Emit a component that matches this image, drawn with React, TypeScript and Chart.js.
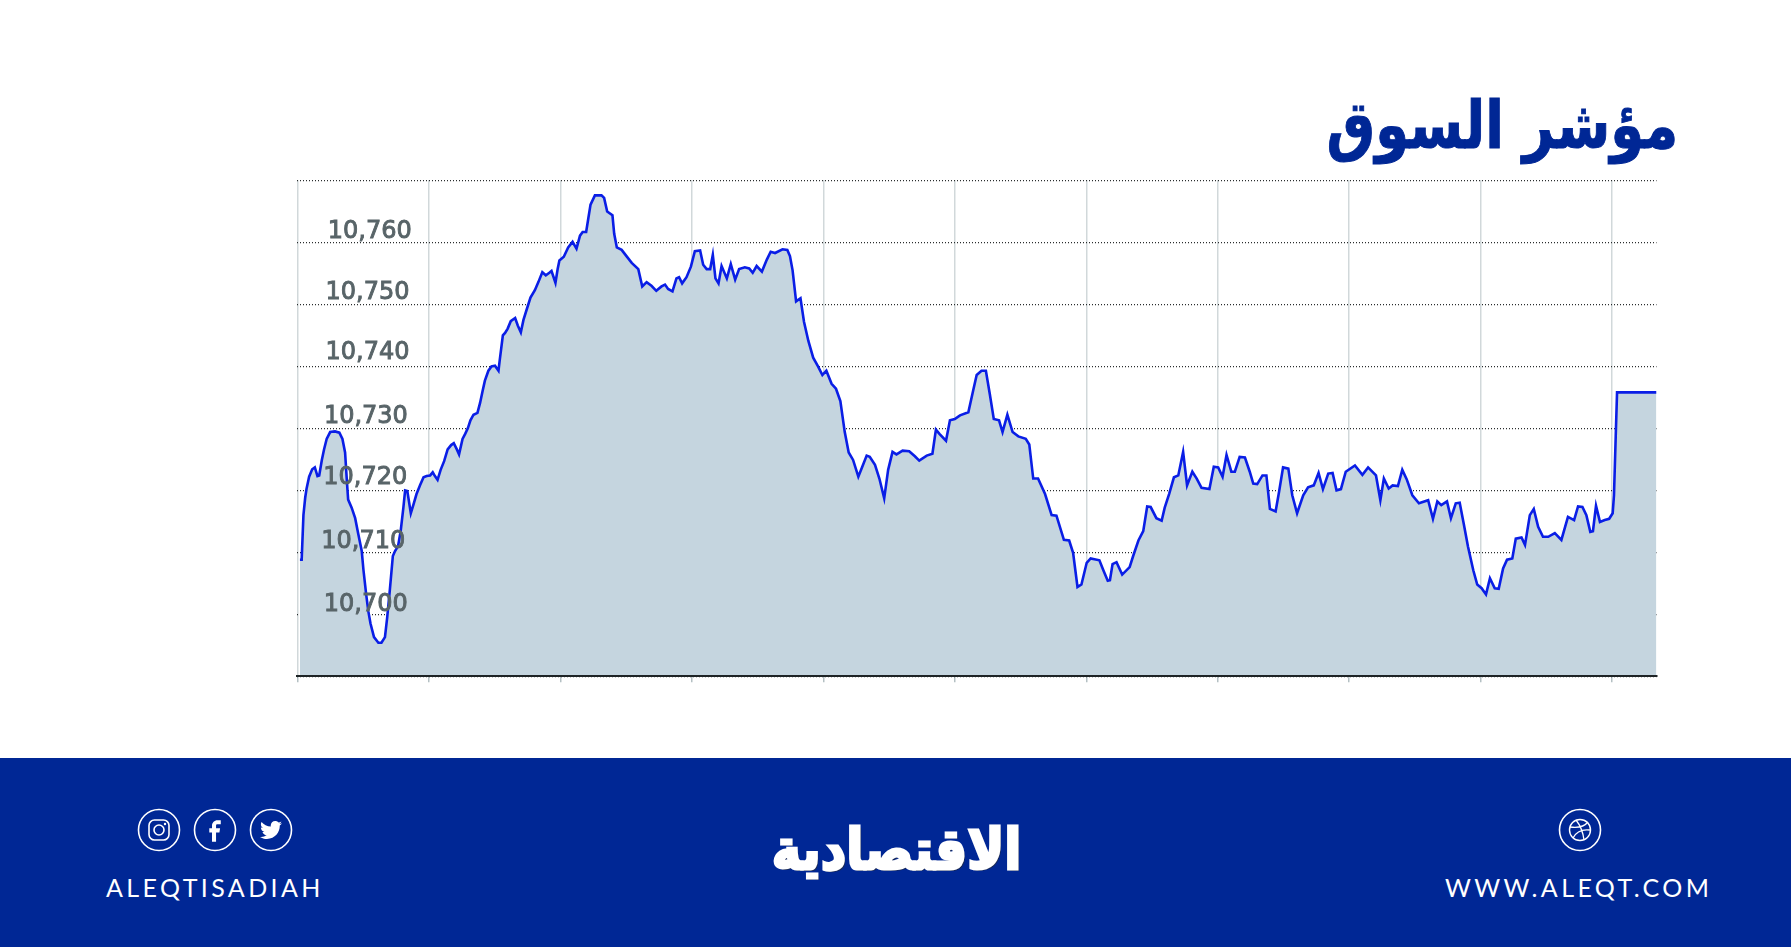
import React, { useEffect, useRef } from "react";
import { Chart, registerables } from "chart.js";

Chart.register(...registerables);

// Minutes after the 10:00 open
const minutes = [
  0.6,1.0,1.4,1.8,2.1,2.7,3.4,4.0,4.6,5.0,5.6,6.1,6.7,7.5,8.6,9.6,10.3,10.9,11.3,11.6,12.4,13.2,13.9,14.7,15.1,15.7,16.2,16.7,17.5,18.5,
  19.2,20.0,20.5,21.1,21.8,22.3,23.0,23.6,24.2,24.6,25.1,25.9,26.5,27.2,28.0,28.8,29.5,30.3,30.9,31.4,32.0,32.7,33.5,34.3,35.1,35.7,36.4,36.9,37.7,38.3,
  38.9,39.5,40.2,41.1,41.7,42.3,42.8,43.6,44.3,45.1,45.9,46.2,46.9,47.4,48.0,48.7,49.7,50.3,51.0,51.6,52.3,53.2,54.2,55.0,55.9,56.7,57.5,58.0,58.9,59.4,
  59.8,60.8,61.8,62.8,63.7,64.5,65.1,65.9,66.4,66.9,67.9,69.4,70.0,70.7,71.9,72.3,72.9,74.0,75.1,76.3,77.8,78.7,79.7,80.8,81.9,83.1,83.9,84.6,85.6,86.5,
  87.1,87.8,88.8,89.8,90.7,91.9,92.6,93.4,94.2,94.8,95.4,96.1,96.8,98.0,98.9,99.9,100.8,102.1,103.1,103.9,104.8,106.0,107.1,108.0,109.0,110.7,111.8,112.4,113.0,113.8,
  114.8,115.6,116.6,117.7,118.8,119.8,120.7,121.9,122.9,123.9,124.9,125.8,126.8,128.0,128.9,129.9,130.6,131.8,132.8,133.9,134.8,135.8,136.7,138.1,139.6,140.9,141.9,143.6,144.9,145.7,
  146.5,148.0,148.9,150.0,151.2,153.1,154.2,155.0,156.1,157.1,158.0,158.9,160.1,160.9,162.0,163.2,164.5,166.2,167.0,167.9,169.0,170.6,172.1,173.2,174.9,176.1,177.0,178.0,178.9,180.1,
  181.0,183.0,183.9,184.9,185.4,186.0,186.9,188.2,189.9,190.7,191.9,193.0,193.9,194.7,196.0,197.2,197.9,198.9,200.0,201.0,202.1,203.0,204.2,205.2,206.3,208.1,209.1,210.1,211.1,212.0,
  213.1,213.9,215.0,216.2,217.3,218.1,219.0,220.2,221.1,221.9,223.2,224.0,224.9,226.1,227.0,228.1,229.5,230.6,231.9,233.0,234.0,235.2,236.2,237.1,238.1,239.2,241.3,243.0,244.3,246.1,
  247.1,247.9,249.0,249.9,251.1,252.1,253.1,254.4,255.9,258.0,259.1,260.1,261.0,262.3,263.2,264.3,265.2,266.1,267.1,268.3,269.2,270.2,271.2,272.1,273.2,274.1,275.1,276.0,277.2,278.0,
  279.3,280.1,281.2,282.1,283.1,284.2,285.4,286.9,288.4,289.9,291.3,292.2,293.2,294.1,295.0,295.6,296.3,297.2,298.3,299.3,300.1,300.4,300.8,301.1,310.1,
];

const indexValues = [
  10708.8,10708.8,10716.0,10718.8,10720.2,10722.2,10723.4,10723.7,10722.3,10722.4,10724.9,10726.6,10728.3,10729.4,10729.5,10729.3,10728.3,10726.1,10721.6,10718.5,10717.2,10715.5,10713.0,10710.2,10707.1,10703.3,10700.5,10698.5,10696.3,10695.4,
  10695.4,10696.3,10699.4,10703.8,10709.4,10710.2,10711.0,10713.5,10717.2,10720.0,10719.9,10716.3,10717.7,10719.4,10720.8,10722.1,10722.3,10722.4,10722.9,10722.3,10721.7,10723.3,10724.7,10726.6,10727.3,10727.6,10726.6,10725.8,10728.3,10729.1,
  10730.0,10731.3,10732.2,10732.5,10734.1,10736.1,10737.7,10739.3,10740.0,10740.1,10739.3,10741.1,10745.0,10745.4,10746.1,10747.3,10747.8,10746.6,10745.5,10747.5,10749.1,10751.1,10752.3,10753.6,10755.2,10754.7,10755.1,10755.4,10753.5,10755.7,
  10757.1,10757.7,10759.2,10760.1,10759.0,10761.1,10761.7,10761.7,10763.9,10766.1,10767.6,10767.6,10767.2,10765.0,10764.4,10761.4,10759.2,10758.8,10757.8,10756.7,10755.7,10752.9,10753.6,10753.0,10752.2,10752.9,10753.2,10752.5,10752.1,10754.2,
  10754.4,10753.4,10754.4,10756.1,10758.6,10758.7,10756.4,10755.7,10755.7,10758.0,10754.2,10753.4,10756.2,10754.2,10756.5,10754.0,10755.7,10756.0,10755.8,10755.1,10756.2,10755.3,10757.2,10758.5,10758.3,10758.9,10758.8,10757.8,10755.5,10750.5,
  10751.0,10747.2,10744.1,10741.4,10740.0,10738.6,10739.3,10737.2,10736.4,10734.4,10729.4,10726.1,10724.9,10722.2,10723.8,10725.6,10725.4,10724.1,10721.9,10718.7,10723.3,10726.2,10725.8,10726.4,10726.3,10725.5,10724.8,10725.6,10725.9,10729.8,
  10729.1,10728.0,10731.3,10731.5,10732.1,10732.6,10736.1,10738.6,10739.3,10739.3,10735.5,10731.5,10731.3,10729.4,10732.2,10729.4,10728.7,10728.3,10727.4,10721.9,10721.9,10719.4,10716.0,10715.9,10712.0,10711.9,10709.9,10704.4,10704.8,10708.3,
  10709.0,10708.7,10707.1,10705.4,10705.5,10708.1,10708.4,10706.4,10707.6,10709.4,10711.9,10713.4,10717.4,10717.3,10715.5,10715.1,10717.2,10719.4,10722.1,10722.4,10726.2,10720.8,10723.0,10721.9,10720.4,10720.2,10723.8,10723.7,10722.2,10725.7,
  10723.0,10723.0,10725.4,10725.3,10723.0,10721.1,10721.0,10722.4,10722.4,10717.0,10716.6,10719.8,10723.7,10723.5,10719.2,10716.3,10719.2,10720.5,10720.8,10722.8,10720.2,10722.7,10722.8,10720.0,10720.2,10723.0,10724.0,10722.5,10723.7,10722.4,
  10718.4,10721.9,10720.3,10720.8,10720.7,10723.3,10721.8,10719.2,10717.9,10718.4,10715.4,10718.2,10717.6,10718.2,10715.5,10717.9,10718.0,10714.7,10710.9,10707.1,10704.8,10704.2,10703.2,10705.8,10704.2,10704.1,10707.4,10708.8,10709.0,10712.2,
  10712.4,10711.2,10716.0,10717.0,10714.1,10712.5,10712.5,10713.1,10712.0,10715.7,10715.2,10717.4,10717.3,10716.0,10713.3,10713.4,10717.5,10714.9,10715.2,10715.4,10716.3,10719.2,10728.8,10735.8,10735.8,
];

const xTickMinutes = [0, 30, 60, 90, 120, 150, 180, 210, 240, 270, 300];
const yTickValues = [10700, 10710, 10720, 10730, 10740, 10750, 10760];
const titleText = "مؤشر السوق";
const logoText = "الاقتصادية";
const handleLeft = "ALEQTISADIAH";
const handleRight = "WWW.ALEQT.COM";

// The labels in the source sit slightly off a common column.
const labelNudge: Record<string, [number, number]> = {
  "10,760": [6.5, -11],
  "10,750": [4.2, -12],
  "10,740": [4.2, -13.4],
  "10,730": [2.6, -12],
  "10,720": [2, -12.6],
  "10,710": [0, -11],
  "10,700": [2.5, -9.5],
};

const nudgeLabels = {
  id: "nudgeLabels",
  beforeDraw(chart: any) {
    const scale = chart.scales.y;
    const items = scale.getLabelItems(chart.chartArea);
    if (items.__nudged) return;
    items.__nudged = true;
    for (const item of items) {
      const d = labelNudge[item.label];
      if (d) {
        item.options.translation[0] += d[0];
        item.options.translation[1] += d[1];
      }
    }
  },
};

const NAVY = "#002795";

function Ring({ cx, cy, children }: { cx: number; cy: number; children: React.ReactNode }) {
  return (
    <svg
      width={46}
      height={46}
      viewBox="0 0 46 46"
      style={{ position: "absolute", left: cx - 23, top: cy - 23 }}
    >
      <circle cx={23} cy={23} r={20.5} fill="none" stroke="#fff" strokeWidth={1.6} />
      {children}
    </svg>
  );
}

export default function App() {
  const ref = useRef<HTMLCanvasElement>(null);

  useEffect(() => {
    const chart = new Chart(ref.current as HTMLCanvasElement, {
      type: "line",
      data: {
        datasets: [
          {
            data: minutes.map((m, i) => ({ x: m, y: indexValues[i] })),
            borderColor: "#0a1ee6",
            borderWidth: 2.6,
            backgroundColor: "#c5d5df",
            fill: "start",
            pointRadius: 0,
            tension: 0,
          },
        ],
      },
      options: {
        animation: false,
        responsive: false,
        layout: { padding: { left: 297.3, right: 134.5, top: 180.5, bottom: 81.8 } },
        plugins: { legend: { display: false }, tooltip: { enabled: false }, title: { display: false } },
        scales: {
          x: {
            type: "linear",
            min: 0,
            max: 310.1,
            afterFit: (s: any) => {
              s.height = 0;
            },
            afterBuildTicks: (s: any) => {
              s.ticks = xTickMinutes.map((value) => ({ value }));
            },
            ticks: { callback: () => "", maxRotation: 0, autoSkip: false },
            grid: {
              color: "#a4b2b6",
              lineWidth: 1.5,
              tickLength: 6,
              tickColor: "#b4c0c3",
              tickBorderDash: [],
            },
            border: { color: "#1e2426", width: 2, z: 1, dash: [1, 1] },
          },
          y: {
            type: "linear",
            min: 10690,
            max: 10770,
            afterFit: (s: any) => {
              s.width = 0;
            },
            ticks: {
              stepSize: 10,
              mirror: true,
              padding: 24,
              z: 2,
              color: "#586468",
              textStrokeColor: "#586468",
              textStrokeWidth: 0.9,
              font: { family: "DejaVu Sans", size: 24, weight: "normal" },
              callback: (v: any) => (yTickValues.includes(v) ? Number(v).toLocaleString("en-US") : ""),
            },
            grid: { color: "#2a2d2e", lineWidth: 1.2, drawTicks: false },
            border: { display: false, dash: [1, 2] },
          },
        },
      } as any,
      plugins: [nudgeLabels as any],
    });
    return () => chart.destroy();
  }, []);

  return (
    <div
      style={{
        position: "absolute",
        left: 0,
        top: 0,
        width: 1791,
        height: 947,
        background: "#fff",
        overflow: "hidden",
      }}
    >
      <canvas ref={ref} width={1791} height={758} style={{ position: "absolute", left: 0, top: 0, width: 1791, height: 758 }} />
      <div
        dir="rtl"
        style={{
          position: "absolute",
          right: 1791 - 1678,
          top: 81,
          color: NAVY,
          font: "700 66px 'DejaVu Sans'",
          lineHeight: "90px",
          whiteSpace: "nowrap",
          WebkitTextStroke: "1px " + NAVY,
          transform: "scaleX(0.825)",
          transformOrigin: "right center",
        }}
      >
        {titleText}
      </div>
      <div style={{ position: "absolute", left: 0, top: 758, width: 1791, height: 189, background: NAVY }} />

      <Ring cx={159} cy={830}>
        <rect x={13} y={13} width={20} height={20} rx={5.5} fill="none" stroke="#fff" strokeWidth={1.6} />
        <circle cx={23} cy={23} r={5} fill="none" stroke="#fff" strokeWidth={1.6} />
        <circle cx={29} cy={17} r={1.2} fill="#fff" />
      </Ring>
      <Ring cx={215} cy={830}>
        <path
          transform="translate(6.5 6.5) scale(1.35)"
          d="M14 8h2.5V5h-2.5c-2.2 0-4 1.8-4 4v2H8v3h2v7h3v-7h2.5l.5-3h-3V9c0-.6.4-1 1-1z"
          fill="#fff"
        />
      </Ring>
      <Ring cx={271} cy={830}>
        <path
          transform="translate(12 12) scale(0.043)"
          d="M459.37 151.716c.325 4.548.325 9.097.325 13.645 0 138.72-105.583 298.558-298.558 298.558-59.452 0-114.68-17.219-161.137-47.106 8.447.974 16.568 1.299 25.34 1.299 49.055 0 94.213-16.568 130.274-44.832-46.132-.975-84.792-31.188-98.112-72.772 6.498.974 12.995 1.624 19.818 1.624 9.421 0 18.843-1.3 27.614-3.573-48.081-9.747-84.143-51.98-84.143-102.985v-1.299c13.969 7.797 30.214 12.67 47.431 13.319-28.264-18.843-46.781-51.005-46.781-87.391 0-19.492 5.197-37.36 14.294-52.954 51.655 63.675 129.3 105.258 216.365 109.807-1.624-7.797-2.599-15.918-2.599-24.04 0-57.828 46.782-104.934 104.934-104.934 30.213 0 57.502 12.67 76.67 33.137 23.715-4.548 46.456-13.32 66.599-25.34-7.798 24.366-24.366 44.833-46.132 57.827 21.117-2.273 41.584-8.122 60.426-16.243-14.292 20.791-32.161 39.308-52.628 54.253z"
          fill="#fff"
        />
      </Ring>
      <Ring cx={1580} cy={830}>
        <circle cx={23} cy={23} r={10.5} fill="none" stroke="#fff" strokeWidth={1.4} />
        <path
          d="M13 20c7 1 14 0 18-5M16 31c3-6 9-9 17-8M19 13c4 5 7 12 8 20"
          fill="none"
          stroke="#fff"
          strokeWidth={1.3}
        />
      </Ring>

      <div
        style={{
          position: "absolute",
          left: 106,
          top: 872,
          color: "#fff",
          font: "400 25px Lato",
          letterSpacing: "3.4px",
          lineHeight: "30px",
          whiteSpace: "nowrap",
        }}
      >
        {handleLeft}
      </div>
      <div
        style={{
          position: "absolute",
          left: 1445,
          top: 872,
          color: "#fff",
          font: "400 25px Lato",
          letterSpacing: "3.4px",
          lineHeight: "30px",
          whiteSpace: "nowrap",
        }}
      >
        {handleRight}
      </div>
      <div
        dir="rtl"
        style={{
          position: "absolute",
          right: 1791 - 1021,
          top: 812,
          color: "#fff",
          font: "700 56px 'DejaVu Sans'",
          lineHeight: "76px",
          WebkitTextStroke: "3px #fff",
          textShadow: "2px 2px 0 #1a2a55",
          whiteSpace: "nowrap",
          transform: "scaleX(0.89)",
          transformOrigin: "right center",
        }}
      >
        {logoText}
      </div>
    </div>
  );
}
